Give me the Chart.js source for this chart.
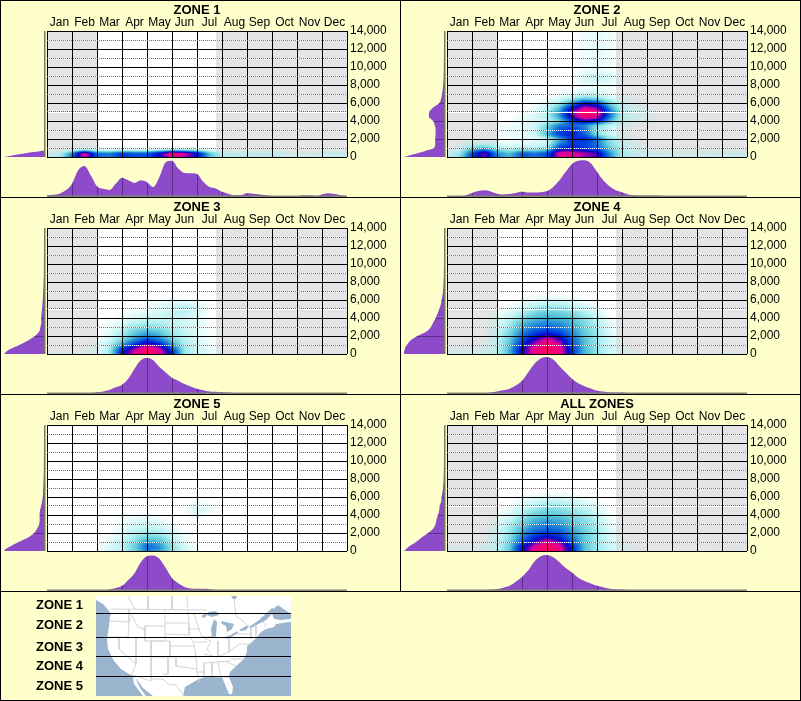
<!DOCTYPE html>
<html>
<head>
<meta charset="utf-8">
<title>Zones</title>
<script src="https://cdn.jsdelivr.net/npm/chart.js@4/dist/chart.umd.js"></script>
<style>
    html, body { margin: 0; padding: 0; background: #FFFFCC; }
    #page { position: relative; width: 801px; height: 701px; overflow: hidden; background: #FFFFCC; }
    #page canvas { position: absolute; }
    .rule { position: absolute; background: #000; }
</style>
</head>
<body>
<div id="page"></div>
<script>
const months = ['Jan', 'Feb', 'Mar', 'Apr', 'May', 'Jun', 'Jul', 'Aug', 'Sep', 'Oct', 'Nov', 'Dec'];
const maxValue = 14000;

// rows of the density tables: one row per level, one column per half month (missing = 0)
const heatLevels = [0, 400, 800, 1200, 1600, 2000, 2500, 3000, 3500, 4000, 4500, 5000, 5500, 6000, 6500, 7000, 8000, 8500, 9000, 9500];
const leftLevels = [0, 250, 500, 750, 1000, 1500, 2000, 2500, 3000, 3500, 4000, 4500, 5000, 5500, 6000, 6500, 7000, 8000, 9000, 10000, 12000, 14000];

const zone1Heat = [
    [8, 12, 45, 85, 48, 42, 55, 50, 50, 60, 90, 80, 60, 30, 12, 8, 8, 8, 10, 6, 3, 3, 7, 8, 6],
    [5, 8, 40, 96, 46, 42, 58, 50, 50, 72, 100, 92, 72, 28, 10, 7, 7, 7, 9, 6, 2, 3, 6, 7, 5],
    [0, 0, 2, 10, 3, 2, 4, 3, 3, 5, 12, 10, 6, 2]
];
const zone1Bottom = [5, 6, 9, 18, 36, 73, 84, 59, 29, 22, 19, 36, 52, 45, 38, 45, 40, 27, 55, 94, 98, 77, 65, 64, 62, 41, 27, 23, 14, 9, 5, 5, 10, 9, 7, 5, 3, 1, 1, 1, 2, 5, 5, 3, 7, 10, 8, 5, 3];
const zone1Left = [100, 70, 36, 0, 0, 0, 0, 0, 0, 0, 0, 0, 0, 0, 0, 0, 0, 0, 0, 0, 0, 0];

const zone2Heat = [
    [8, 18, 55, 74, 40, 30, 48, 42, 50, 88, 90, 78, 74, 40, 14, 8, 6, 5, 4, 4, 4, 5, 6, 6, 4],
    [6, 15, 50, 82, 38, 28, 50, 44, 52, 92, 93, 84, 76, 38, 14, 7, 5, 5, 3, 3, 3, 4, 5, 5, 3],
    [2, 8, 32, 42, 22, 15, 20, 18, 25, 66, 70, 60, 52, 30, 12, 5, 3, 2, 1, 1, 1, 2, 2, 2, 1],
    [0, 2, 14, 20, 8, 6, 7, 8, 12, 48, 58, 52, 44, 24, 10, 3, 1],
    [0, 0, 3, 5, 1, 2, 3, 4, 8, 36, 54, 54, 42, 20, 8, 2],
    [0, 0, 0, 0, 0, 1, 2, 3, 7, 32, 56, 60, 46, 20, 8, 2],
    [0, 0, 0, 0, 1, 2, 3, 7, 30, 56, 62, 48, 20, 8, 2],
    [0, 0, 0, 0, 1, 3, 4, 7, 26, 50, 56, 44, 18, 9, 2],
    [0, 0, 0, 0, 1, 2, 3, 7, 22, 42, 46, 38, 18, 9, 3, 1],
    [0, 0, 0, 0, 0, 1, 3, 5, 8, 22, 52, 70, 64, 32, 10, 4, 2],
    [0, 0, 0, 0, 0, 0, 2, 5, 12, 36, 75, 98, 90, 44, 10, 5, 3],
    [0, 0, 0, 0, 0, 0, 1, 3, 12, 36, 78, 100, 96, 46, 12, 5, 3],
    [0, 0, 0, 0, 0, 0, 0, 2, 8, 28, 62, 86, 78, 36, 9, 4, 1],
    [0, 0, 0, 0, 0, 0, 0, 1, 4, 14, 36, 60, 52, 22, 6, 2],
    [0, 0, 0, 0, 0, 0, 0, 0, 1, 5, 14, 24, 20, 8, 2, 1],
    [0, 0, 0, 0, 0, 0, 0, 0, 0, 1, 3, 6, 5, 2],
    [0, 0, 0, 0, 0, 0, 0, 0, 0, 0, 0, 2, 3, 2],
    [0, 0, 0, 0, 0, 0, 0, 0, 0, 0, 0, 5, 8, 5],
    [0, 0, 0, 0, 0, 0, 0, 0, 0, 0, 0, 6, 9, 6],
    [0, 0, 0, 0, 0, 0, 0, 0, 0, 0, 0, 2, 3, 2]
];
const zone2Bottom = [2, 2, 2, 5, 11, 16, 18, 15, 9, 7, 8, 11, 14, 12, 12, 13, 16, 27, 45, 68, 89, 98, 99, 91, 68, 45, 29, 18, 13, 7, 5, 4, 4, 4, 4, 3, 3, 3, 3, 3, 3, 3, 3, 3, 3, 3, 3, 3, 3];
const zone2Left = [100, 81, 60, 42, 25, 22, 22, 21, 21, 23, 27, 38, 37, 27, 12, 7, 5, 2, 1, 0.5, 0, 0];

const zone3Heat = [
    [2, 2, 2, 2, 3, 14, 62, 88, 100, 92, 60, 17, 7, 3, 2, 1, 0, 0, 0, 0, 0, 1, 2, 1, 1],
    [1, 1, 1, 1, 3, 14, 60, 86, 100, 90, 56, 16, 7, 3, 1],
    [0, 0, 0, 1, 2, 12, 45, 70, 92, 76, 42, 15, 6, 2],
    [0, 0, 0, 0, 2, 10, 30, 50, 72, 56, 32, 13, 6, 2],
    [0, 0, 0, 0, 1, 7, 20, 38, 52, 42, 24, 11, 5, 1],
    [0, 0, 0, 0, 0, 5, 16, 30, 40, 33, 18, 10, 5, 1],
    [0, 0, 0, 0, 0, 3, 12, 24, 30, 25, 15, 9, 4, 1],
    [0, 0, 0, 0, 0, 2, 8, 16, 20, 17, 12, 8, 4, 1],
    [0, 0, 0, 0, 0, 1, 4, 10, 13, 12, 9, 6, 4, 1],
    [0, 0, 0, 0, 0, 0, 2, 5, 8, 8, 9, 7, 4],
    [0, 0, 0, 0, 0, 0, 1, 3, 5, 7, 10, 10, 5],
    [0, 0, 0, 0, 0, 0, 0, 1, 2, 5, 10, 13, 8, 1],
    [0, 0, 0, 0, 0, 0, 0, 0, 1, 3, 6, 7, 3],
    [0, 0, 0, 0, 0, 0, 0, 0, 0, 1, 2, 2]
];
const zone3Bottom = [2, 2, 2, 2, 2, 2, 2, 3, 5, 7, 11, 18, 25, 41, 68, 91, 98, 91, 73, 58, 44, 36, 27, 20, 14, 10, 7, 6, 5, 4, 3, 3, 3, 3, 3, 3, 3, 3, 3, 3, 3, 3, 3, 3, 3, 3, 3, 3, 3];
const zone3Left = [100, 95, 87, 75, 62, 40, 23, 12, 9, 7, 7, 6, 5, 4, 3, 2.5, 2, 1, 0.5, 0.3, 0, 0];

const zone4Heat = [
    [3, 3, 4, 5, 10, 30, 68, 90, 100, 94, 56, 30, 17, 8, 3, 2, 1, 0, 0, 0, 0, 2, 3, 3, 2],
    [2, 3, 3, 4, 10, 30, 68, 92, 100, 94, 56, 30, 17, 8, 3, 1],
    [1, 1, 2, 3, 9, 28, 64, 90, 100, 92, 54, 29, 17, 8, 2],
    [0, 0, 1, 2, 9, 27, 56, 80, 98, 84, 50, 29, 16, 7, 1],
    [0, 0, 0, 1, 8, 25, 50, 70, 90, 74, 46, 28, 16, 7, 1],
    [0, 0, 0, 0, 8, 23, 44, 60, 76, 62, 42, 27, 16, 6],
    [0, 0, 0, 0, 7, 20, 38, 50, 55, 50, 38, 25, 15, 5],
    [0, 0, 0, 0, 6, 17, 33, 42, 46, 42, 34, 23, 14, 4],
    [0, 0, 0, 0, 4, 13, 27, 35, 38, 36, 30, 21, 12, 3],
    [0, 0, 0, 0, 3, 9, 20, 29, 32, 30, 26, 18, 9, 1],
    [0, 0, 0, 0, 1, 5, 14, 23, 27, 25, 21, 14, 6],
    [0, 0, 0, 0, 0, 2, 8, 15, 20, 18, 14, 9, 3],
    [0, 0, 0, 0, 0, 0, 4, 8, 12, 11, 8, 4, 1],
    [0, 0, 0, 0, 0, 0, 1, 3, 5, 5, 3, 1],
    [0, 0, 0, 0, 0, 0, 0, 1, 1, 1]
];
const zone4Bottom = [2, 2, 2, 2, 2, 2, 2, 4, 7, 10, 14, 23, 36, 59, 82, 96, 100, 93, 75, 58, 41, 29, 21, 15, 9, 7, 5, 4, 4, 3, 3, 3, 3, 3, 3, 3, 3, 3, 3, 3, 3, 3, 3, 3, 3, 3, 3, 3, 3];
const zone4Left = [100, 100, 98, 97, 93, 84, 67, 44, 33, 27, 21, 16, 12, 8, 6, 4, 2.5, 1, 0.5, 0, 0, 0];

const zone5Heat = [
    [0, 0, 0, 0, 0, 5, 10, 22, 40, 34, 18, 7, 1],
    [0, 0, 0, 0, 0, 5, 11, 24, 46, 38, 18, 6],
    [0, 0, 0, 0, 0, 4, 10, 22, 42, 34, 16, 5],
    [0, 0, 0, 0, 0, 3, 8, 18, 30, 26, 13, 3],
    [0, 0, 0, 0, 0, 1, 6, 14, 22, 20, 10, 2],
    [0, 0, 0, 0, 0, 0, 5, 11, 15, 14, 7, 1],
    [0, 0, 0, 0, 0, 0, 3, 8, 10, 9, 4],
    [0, 0, 0, 0, 0, 0, 2, 6, 7, 5, 2],
    [0, 0, 0, 0, 0, 0, 1, 4, 4, 2],
    [0, 0, 0, 0, 0, 0, 1, 2, 1, 0, 0, 0, 3],
    [0, 0, 0, 0, 0, 0, 0, 0, 0, 0, 0, 0, 6, 3],
    [0, 0, 0, 0, 0, 0, 0, 0, 0, 0, 0, 0, 5, 2],
    [0, 0, 0, 0, 0, 0, 0, 0, 0, 0, 0, 0, 1]
];
const zone5Bottom = [1, 1, 1, 1, 1, 1, 1, 1, 1, 2, 4, 8, 14, 30, 48, 78, 94, 96, 87, 62, 35, 21, 11, 7, 6, 6, 5, 3, 2, 1, 1, 1, 1, 1, 1, 1, 1, 1, 1, 1, 1, 1, 1, 1, 1, 1, 1, 1, 1];
const zone5Left = [100, 95, 85, 75, 64, 40, 25, 17, 12, 11, 11, 10, 7, 5, 3, 2.5, 2, 1, 0.5, 0.3, 0, 0];

const allHeat = [
    [3, 3, 3, 4, 9, 25, 64, 90, 100, 92, 60, 28, 16, 8, 3, 2, 1, 0, 0, 0, 0, 1, 2, 2, 2],
    [2, 2, 2, 3, 9, 25, 64, 90, 100, 92, 60, 28, 16, 8, 3, 1],
    [1, 1, 1, 2, 8, 23, 54, 78, 96, 82, 52, 27, 16, 7, 2],
    [0, 0, 0, 1, 7, 21, 46, 66, 85, 68, 46, 26, 15, 7, 1],
    [0, 0, 0, 0, 6, 19, 40, 56, 66, 58, 40, 25, 15, 6, 1],
    [0, 0, 0, 0, 6, 17, 34, 48, 54, 50, 36, 24, 15, 6],
    [0, 0, 0, 0, 5, 15, 29, 41, 45, 42, 32, 23, 14, 5],
    [0, 0, 0, 0, 4, 12, 25, 35, 39, 36, 28, 21, 12, 4],
    [0, 0, 0, 0, 3, 9, 20, 29, 33, 31, 25, 19, 11, 2],
    [0, 0, 0, 0, 1, 6, 15, 23, 27, 26, 21, 16, 8, 1],
    [0, 0, 0, 0, 0, 3, 10, 18, 23, 21, 17, 12, 6, 1],
    [0, 0, 0, 0, 0, 1, 6, 12, 16, 15, 12, 8, 3],
    [0, 0, 0, 0, 0, 0, 3, 7, 10, 10, 7, 4, 1],
    [0, 0, 0, 0, 0, 0, 1, 2, 4, 4, 3, 1]
];
const allBottom = [2, 2, 2, 2, 2, 2, 2, 4, 5, 9, 14, 25, 38, 56, 80, 94, 97, 91, 78, 62, 50, 36, 27, 20, 14, 10, 6, 5, 4, 3, 2, 2, 2, 2, 2, 2, 2, 2, 2, 2, 2, 2, 2, 2, 2, 2, 2, 2, 2];
const allLeft = [100, 94, 88, 79, 70, 56, 40, 27, 21, 19, 15, 12, 11, 7, 6, 4, 2.5, 1, 0.5, 0, 0, 0];

// greyed part of the year, in months
const seasonShade = [[0, 2], [6.76, 12]];

const zones = [
    { name: 'ZONE 1', left: 0, top: 0, heat: zone1Heat, bottom: zone1Bottom, side: zone1Left, shade: seasonShade },
    { name: 'ZONE 2', left: 400, top: 0, heat: zone2Heat, bottom: zone2Bottom, side: zone2Left, shade: seasonShade },
    { name: 'ZONE 3', left: 0, top: 197, heat: zone3Heat, bottom: zone3Bottom, side: zone3Left, shade: seasonShade },
    { name: 'ZONE 4', left: 400, top: 197, heat: zone4Heat, bottom: zone4Bottom, side: zone4Left, shade: seasonShade },
    { name: 'ZONE 5', left: 0, top: 394, heat: zone5Heat, bottom: zone5Bottom, side: zone5Left, shade: [] },
    { name: 'ALL ZONES', left: 400, top: 394, heat: allHeat, bottom: allBottom, side: allLeft, shade: seasonShade }
];

// map legend, in map pixels
const zoneNames = ['ZONE 1', 'ZONE 2', 'ZONE 3', 'ZONE 4', 'ZONE 5'];
const zoneNameRows = [9, 29, 51.5, 70, 90];
const zoneLines = [17.5, 41.5, 60.5, 80.5];
const landOutline = [[0, 0], [195, 0], [195, 26], [193, 26], [180, 28], [178, 31], [170, 33], [165, 36], [161, 41], [156, 46], [151, 50], [151, 56], [148, 63], [140, 70], [134, 76], [133, 81], [137, 91], [136, 98], [133, 98], [130, 91], [126, 81], [111, 80], [101, 84], [89, 91], [87, 100], [57, 100], [47, 92], [39, 81], [44, 92], [50, 100], [47, 100], [38, 88], [37, 80], [33, 78], [25, 73], [18, 65], [12, 53], [11, 43], [13, 30], [14, 20], [15, 18], [13, 15], [7, 8], [0, 4], [0, 0]];
const waterShapes = [
    [[105, 20], [113, 16], [120, 15], [121, 16], [123, 19], [116, 21], [111, 19], [108, 22]],
    [[118, 23], [121, 26], [120, 40], [116, 41], [115, 33]],
    [[125, 25], [138, 28], [136, 33], [131, 36], [130, 30], [126, 28]],
    [[129, 41], [135, 39], [141, 35], [142, 37], [135, 41], [130, 43]],
    [[143, 34], [150, 30], [153, 30], [150, 34], [145, 35]],
    [[153, 31], [163, 24], [176, 12], [180, 14], [170, 24], [155, 32]],
    [[175, 15], [182, 9], [195, 18], [195, 23], [185, 24], [178, 23]],
    [[135, 0], [141, 0], [140, 3], [137, 3]]
];
const borderLines = [
    [[15, 13], [111, 14]], [[32, 0], [39, 13]], [[52, 0], [52, 13]], [[76, 0], [76, 13]], [[91, 0], [92, 12]],
    [[138, 1], [140, 20], [148, 26], [153, 31]],
    [[14, 25], [33, 26]], [[33, 13], [33, 26], [32, 41]], [[35, 18], [42, 31], [48, 33], [49, 43]],
    [[49, 30], [69, 30], [69, 13]], [[49, 30], [49, 45], [69, 45], [69, 30]],
    [[69, 27], [92, 27]], [[69, 38], [92, 39]], [[92, 14], [93, 28], [93, 39], [98, 48]],
    [[12, 41], [33, 41]], [[23, 41], [23, 53], [40, 68]], [[40, 41], [40, 68], [36, 78]],
    [[55, 45], [55, 83]], [[55, 45], [74, 45], [74, 61], [55, 61]], [[33, 78], [55, 85], [55, 83], [67, 83]],
    [[67, 83], [72, 88], [80, 89], [88, 100]], [[72, 61], [72, 78], [67, 78]], [[80, 62], [80, 70], [100, 73]],
    [[74, 50], [98, 50]], [[74, 61], [100, 61]],
    [[98, 46], [111, 46]], [[122, 45], [122, 61]], [[133, 41], [133, 56]], [[108, 58], [121, 61], [133, 56], [143, 48]],
    [[108, 67], [135, 65]], [[108, 67], [108, 81]], [[116, 66], [116, 81]], [[122, 66], [125, 81]], [[118, 81], [133, 81]],
    [[130, 66], [140, 70]], [[135, 63], [148, 63]], [[141, 38], [155, 38]], [[143, 48], [155, 48]],
    [[155, 31], [155, 43]], [[160, 30], [160, 40]], [[165, 21], [170, 31]],
    [[98, 18], [103, 33], [106, 41]], [[93, 33], [103, 33]], [[106, 41], [115, 45], [111, 53], [115, 58]],
    [[98, 48], [100, 61], [101, 76], [108, 76]], [[101, 76], [103, 86]], [[106, 41], [120, 40]]
];

const fontName = '"Liberation Sans", Arial, sans-serif';
const purple = '#8E4BC9';
const darkPurple = '#5C2F8C';
const axisOlive = '#858573';

// density -> colour table
const heatStops = [
    [0, 150, 235, 235, 0], [6, 170, 240, 240, 0.5], [15, 150, 232, 235, 0.9], [28, 85, 195, 215, 1],
    [40, 30, 130, 215, 1], [52, 0, 70, 225, 1], [66, 0, 10, 200, 1], [76, 90, 0, 180, 1],
    [86, 215, 0, 160, 1], [100, 255, 0, 95, 1]
];
const heatLut = [];
for (let i = 0; i <= 100; i++) {
    let s = 0;
    while (s < heatStops.length - 2 && heatStops[s + 1][0] < i) s++;
    const a = heatStops[s], b = heatStops[s + 1];
    const t = (i - a[0]) / (b[0] - a[0]);
    heatLut.push([1, 2, 3, 4].map(k => a[k] + (b[k] - a[k]) * t));
}

function sampleHeat(rows, month, value) {
    const colPos = Math.min(month * 2, 23.999);
    const c = Math.floor(colPos);
    const ct = colPos - c;
    let r = 0;
    while (r < heatLevels.length - 2 && heatLevels[r + 1] < value) r++;
    const rt = Math.min(1, Math.max(0, (value - heatLevels[r]) / (heatLevels[r + 1] - heatLevels[r])));
    const at = (row, col) => (rows[row] && rows[row][col]) || 0;
    const lo = at(r, c) * (1 - ct) + at(r, c + 1) * ct;
    const hi = at(r + 1, c) * (1 - ct) + at(r + 1, c + 1) * ct;
    return lo * (1 - rt) + hi * rt;
}

function softenField(field, w, h) {
    const out = new Float32Array(field.length);
    for (let y = 0; y < h; y++) {
        for (let x = 0; x < w; x++) {
            let sum = 0, n = 0;
            for (let dy = -1; dy <= 1; dy++) {
                for (let dx = -2; dx <= 2; dx++) {
                    const yy = y + dy, xx = x + dx;
                    if (yy < 0 || yy >= h || xx < 0 || xx >= w) continue;
                    sum += field[yy * w + xx];
                    n++;
                }
            }
            out[y * w + x] = sum / n;
        }
    }
    return out;
}

const heatPlugin = {
    id: 'heatPlugin',
    beforeDraw(chart) {
        const { ctx, chartArea: area, scales } = chart;
        const ds = chart.data.datasets[0];
        const w = Math.round(area.right - area.left);
        const h = Math.round(area.bottom - area.top);

        ctx.save();
        ctx.fillStyle = '#FFFFFF';
        ctx.fillRect(area.left, area.top, w, h);
        ctx.fillStyle = '#E4E4E4';
        ds.shade.forEach(range => {
            const x0 = scales.x.getPixelForValue(range[0]);
            const x1 = scales.x.getPixelForValue(range[1]);
            ctx.fillRect(x0, area.top, x1 - x0, h);
        });

        let field = new Float32Array(w * h);
        for (let y = 0; y < h; y++) {
            const value = scales.y.getValueForPixel(area.top + y + 0.5);
            for (let x = 0; x < w; x++) {
                const month = scales.x.getValueForPixel(area.left + x + 0.5);
                field[y * w + x] = sampleHeat(ds.rows, month, value);
            }
        }
        field = softenField(field, w, h);

        const off = document.createElement('canvas');
        off.width = w;
        off.height = h;
        const octx = off.getContext('2d');
        const img = octx.createImageData(w, h);
        for (let i = 0; i < field.length; i++) {
            const c = heatLut[Math.min(100, Math.round(field[i]))];
            img.data[i * 4] = c[0];
            img.data[i * 4 + 1] = c[1];
            img.data[i * 4 + 2] = c[2];
            img.data[i * 4 + 3] = c[3] * 255;
        }
        octx.putImageData(img, 0, 0);
        ctx.drawImage(off, area.left, area.top);

        // gaps of the dotted lines stay white
        ctx.fillStyle = '#FFFFFF';
        for (let v = 1000; v < maxValue; v += 2000) {
            ctx.fillRect(area.left, Math.round(scales.y.getPixelForValue(v)), w, 1);
        }
        ctx.restore();
    }
};

function makeCanvas(left, top, width, height) {
    const canvas = document.createElement('canvas');
    canvas.width = width;
    canvas.height = height;
    canvas.style.left = left + 'px';
    canvas.style.top = top + 'px';
    document.getElementById('page').appendChild(canvas);
    return canvas;
}

function makeHeatChart(zone) {
    const points = [];
    zone.heat.forEach((row, r) => row.forEach((d, c) => points.push({ x: c / 2, y: heatLevels[r], d: d })));
    return new Chart(makeCanvas(zone.left, zone.top, 400, 165), {
        type: 'scatter',
        data: { datasets: [{ data: points, rows: zone.heat, shade: zone.shade, pointRadius: 0, xAxisID: 'x', yAxisID: 'y' }] },
        plugins: [heatPlugin],
        options: {
            responsive: false,
            animation: false,
            devicePixelRatio: 1,
            layout: { padding: { left: 47, right: 0, top: 0, bottom: 8 } },
            plugins: {
                legend: { display: false },
                tooltip: { enabled: false },
                title: {
                    display: true,
                    text: zone.name,
                    fullSize: false,
                    color: '#000',
                    font: { family: fontName, size: 13, weight: 'bold', lineHeight: 1.2 },
                    padding: { top: 2.5, bottom: -1.5 }
                }
            },
            scales: {
                x: {
                    type: 'linear',
                    position: 'bottom',
                    min: 0,
                    max: 12,
                    ticks: { display: false, stepSize: 1 },
                    grid: { color: '#000', lineWidth: 1, drawTicks: false },
                    border: { display: false },
                    afterFit: s => { s.height = 0; s.paddingLeft = 0; s.paddingRight = 0; }
                },
                xTop: {
                    type: 'category',
                    position: 'top',
                    labels: months,
                    offset: true,
                    grid: { display: false, drawTicks: false },
                    border: { display: false },
                    ticks: {
                        autoSkip: false,
                        maxRotation: 0,
                        padding: 1,
                        color: '#000',
                        font: { family: fontName, size: 12 }
                    },
                    afterFit: s => { s.height = 14.4; s.paddingLeft = 0; s.paddingRight = 0; }
                },
                y: {
                    type: 'linear',
                    position: 'right',
                    min: 0,
                    max: maxValue,
                    afterBuildTicks: s => {
                        s.ticks = [];
                        for (let v = 0; v <= maxValue; v += 1000) s.ticks.push({ value: v });
                    },
                    grid: {
                        drawTicks: false,
                        lineWidth: 1,
                        color: c => (c.tick.value % 2000 === 0 ? '#000' : '#707070')
                    },
                    border: { display: false, dash: c => (c.tick.value % 2000 === 0 ? [] : [1, 1]) },
                    ticks: {
                        autoSkip: false,
                        padding: 3,
                        color: '#000',
                        font: { family: fontName, size: 12 },
                        callback: v => (v % 2000 === 0 ? v.toLocaleString('en-US') : '')
                    },
                    afterFit: s => { s.width = 53; s.paddingTop = 0; s.paddingBottom = 0; }
                }
            }
        }
    });
}

function makeBottomChart(zone) {
    const data = zone.bottom.map((h, i) => ({ x: i / 4, y: h }));
    return new Chart(makeCanvas(zone.left + 47, zone.top + 160, 300, 37), {
        type: 'line',
        data: {
            datasets: [{
                data: data,
                backgroundColor: purple,
                borderWidth: 0,
                pointRadius: 0,
                fill: 'origin',
                cubicInterpolationMode: 'monotone'
            }]
        },
        plugins: [{
            id: 'monthDrops',
            afterDatasetsDraw(chart) {
                const { ctx, scales, chartArea: area } = chart;
                ctx.save();
                ctx.globalCompositeOperation = 'source-atop';
                ctx.fillStyle = darkPurple;
                for (let m = 1; m < 12; m++) {
                    ctx.fillRect(Math.round(scales.x.getPixelForValue(m)), area.top, 1, area.bottom - area.top);
                }
                ctx.globalCompositeOperation = 'source-over';
                ctx.fillStyle = axisOlive;
                ctx.fillRect(area.left, scales.y.getPixelForValue(0) - 1.5, area.right - area.left, 1.5);
                ctx.restore();
            }
        }],
        options: {
            responsive: false,
            animation: false,
            devicePixelRatio: 1,
            plugins: { legend: { display: false }, tooltip: { enabled: false } },
            scales: {
                x: { type: 'linear', min: 0, max: 12, display: false },
                y: { type: 'linear', min: 0, max: 100, display: false }
            }
        }
    });
}

function makeSideChart(zone) {
    const data = zone.side.map((w, i) => ({ x: w, y: leftLevels[i] }));
    return new Chart(makeCanvas(zone.left + 4, zone.top + 31, 42, 126), {
        type: 'line',
        data: {
            datasets: [{
                data: data,
                backgroundColor: purple,
                borderWidth: 0,
                pointRadius: 0,
                fill: 'origin',
                cubicInterpolationMode: 'monotone'
            }]
        },
        plugins: [{
            id: 'valueDrops',
            afterDatasetsDraw(chart) {
                const { ctx, scales, chartArea: area } = chart;
                ctx.save();
                ctx.globalCompositeOperation = 'source-atop';
                ctx.fillStyle = darkPurple;
                for (let v = 2000; v < maxValue; v += 2000) {
                    ctx.fillRect(area.left, Math.round(scales.y.getPixelForValue(v)), area.right - area.left, 1);
                }
                ctx.globalCompositeOperation = 'source-over';
                ctx.fillStyle = '#77776A';
                ctx.fillRect(scales.x.getPixelForValue(0), area.top, 1.5, area.bottom - area.top);
                ctx.restore();
            }
        }],
        options: {
            responsive: false,
            animation: false,
            devicePixelRatio: 1,
            indexAxis: 'y',
            layout: { padding: { right: 2 } },
            plugins: { legend: { display: false }, tooltip: { enabled: false } },
            scales: {
                x: { type: 'linear', min: 0, max: 100, reverse: true, display: false },
                y: { type: 'linear', min: 0, max: maxValue, display: false }
            }
        }
    });
}

function makeMapChart() {
    const toPoints = list => list.map(p => ({ x: p[0], y: p[1] }));
    const datasets = [];
    datasets.push({ data: toPoints(landOutline), backgroundColor: '#FFFFFF', borderWidth: 0, fill: 'shape' });
    borderLines.forEach(line => datasets.push({ data: toPoints(line), borderColor: '#D4D4D4', borderWidth: 1, fill: false }));
    waterShapes.forEach(shape => {
        datasets.push({ data: toPoints(shape.concat([shape[0]])), backgroundColor: '#9BB5CF', borderWidth: 0, fill: 'shape' });
    });
    zoneLines.forEach(y => datasets.push({ data: toPoints([[0, y], [195, y]]), borderColor: '#000', borderWidth: 1, fill: false }));
    datasets.forEach((d, i) => {
        d.showLine = true;
        d.pointRadius = 0;
        d.tension = 0;
        d.order = datasets.length - i;
    });

    return new Chart(makeCanvas(30, 596, 261, 100), {
        type: 'scatter',
        data: { datasets: datasets },
        plugins: [{
            id: 'sea',
            beforeDraw(chart) {
                const { ctx, chartArea: area } = chart;
                ctx.save();
                ctx.fillStyle = '#9BB5CF';
                ctx.fillRect(area.left, area.top, area.right - area.left, area.bottom - area.top);
                ctx.restore();
            }
        }],
        options: {
            responsive: false,
            animation: false,
            devicePixelRatio: 1,
            plugins: { legend: { display: false }, tooltip: { enabled: false } },
            scales: {
                x: {
                    type: 'linear', min: 0, max: 195, display: true,
                    ticks: { display: false }, grid: { display: false, drawTicks: false }, border: { display: false },
                    afterFit: s => { s.height = 0; s.paddingLeft = 0; s.paddingRight = 0; }
                },
                y: {
                    type: 'linear',
                    min: 0,
                    max: 100,
                    reverse: true,
                    grid: { display: false, drawTicks: false },
                    border: { display: false },
                    afterBuildTicks: s => { s.ticks = zoneNameRows.map(v => ({ value: v })); },
                    ticks: {
                        autoSkip: false,
                        padding: 13,
                        color: '#000',
                        font: { family: fontName, size: 13, weight: 'bold' },
                        callback: (v, i) => zoneNames[i]
                    },
                    afterFit: s => { s.width = 66; s.paddingTop = 0; s.paddingBottom = 0; }
                }
            }
        }
    });
}

function addRule(left, top, width, height) {
    const rule = document.createElement('div');
    rule.className = 'rule';
    rule.style.cssText = `left:${left}px;top:${top}px;width:${width}px;height:${height}px`;
    document.getElementById('page').appendChild(rule);
}

zones.forEach(zone => {
    makeHeatChart(zone);
    makeBottomChart(zone);
    makeSideChart(zone);
});
makeMapChart();

// panel frame
addRule(0, 0, 801, 1);
addRule(0, 700, 801, 1);
addRule(0, 0, 1, 701);
addRule(800, 0, 1, 701);
addRule(400, 0, 1, 591);
addRule(0, 197, 801, 1);
addRule(0, 394, 801, 1);
addRule(0, 591, 801, 1);
</script>
</body>
</html>
